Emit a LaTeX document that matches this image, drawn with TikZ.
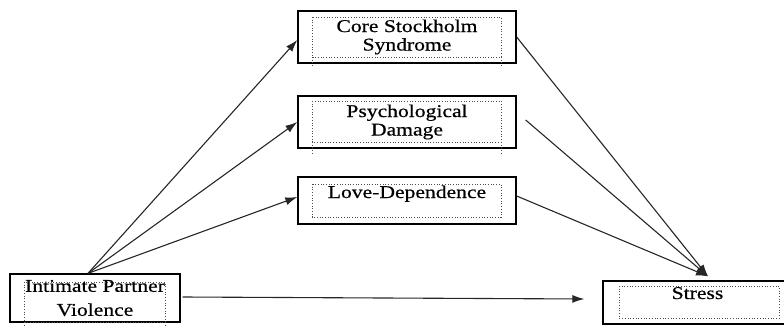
\documentclass[tikz,border=0pt]{standalone}
\usepackage{fontspec}
\setmainfont{Liberation Serif}[FakeStretch=1.2,FakeBold=0.6]
\usetikzlibrary{arrows.meta}
\begin{document}
\begin{tikzpicture}[x=1pt,y=-1pt,
  box/.style={draw=black,line width=1.3pt,rectangle,inner sep=0pt,align=center,
    font=\fontsize{18}{18.5}\selectfont},
  inner/.style={draw=black!70,dotted,line width=0.7pt},
  arr/.style={draw=black!85,line width=1.1pt,-{Latex[length=12pt,width=8pt]}}]
\useasboundingbox (0,0) rectangle (784,326);
% boxes
\node[box,minimum width=218pt,minimum height=52pt] (core) at (407,37) {Core Stockholm\\Syndrome};
\node[box,minimum width=218pt,minimum height=52pt] (psych) at (407,122) {Psychological\\Damage};
\node[box,minimum width=218pt,minimum height=47pt,text height=12pt,text depth=17pt] (love) at (407,200.5) {Love-Dependence};
\node[box,minimum width=170pt,minimum height=48pt,font=\fontsize{18}{24}\selectfont] (ipv) at (95,298) {Intimate Partner\\Violence};
\node[box,minimum width=189pt,minimum height=43pt,text height=12pt,text depth=19pt] (stress) at (697.5,302.5) {Stress};
% dotted inner frames
\draw[inner] (312,17) rectangle (501,57);
\draw[inner] (312,57) -- (312,67) (501,57) -- (501,67);
\draw[inner] (312,101) rectangle (501,142);
\draw[inner] (312,142) -- (312,153) (501,142) -- (501,153);
\draw[inner] (312,184) rectangle (501,217);
\draw[inner] (24,282) rectangle (165,322);
\draw[inner] (24,322) -- (24,326) (165,322) -- (165,326);
\draw[inner] (619,286) rectangle (779,318);
% coordinates
\coordinate (fan) at ([xshift=-7pt]ipv.north);
\coordinate (sin) at ([xshift=10.5pt,yshift=4pt]stress.north);
% connectors
\draw[arr] (fan) -- ([yshift=-3pt]core.west);
\draw[arr] (fan) -- (psych.west);
\draw[arr] (fan) -- ([yshift=3.5pt]love.west);
\draw[arr] (core.east) -- (sin);
\draw[arr] ([xshift=9pt,yshift=2pt]psych.east) -- (sin);
\draw[arr] ([yshift=4.5pt]love.east) -- (sin);
\draw[arr] ([xshift=2pt,yshift=1pt]ipv.east) -- ([xshift=-18pt,yshift=3.5pt]stress.west);
\end{tikzpicture}
\end{document}
